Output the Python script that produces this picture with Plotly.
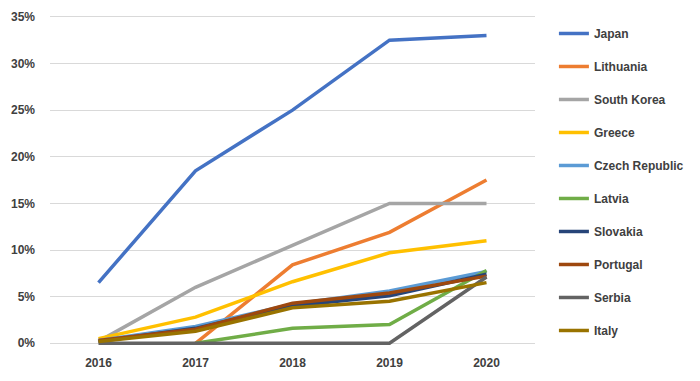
import plotly.graph_objects as go

years = ["2016", "2017", "2018", "2019", "2020"]
series_names = ["Japan", "Lithuania", "South Korea", "Greece", "Czech Republic",
                "Latvia", "Slovakia", "Portugal", "Serbia", "Italy"]
japan = [0.065, 0.185, 0.25, 0.325, 0.33]
lithuania = [None, 0.0, 0.084, 0.119, 0.175]
south_korea = [0.002, 0.06, 0.105, 0.15, 0.15]
greece = [0.005, 0.028, 0.066, 0.097, 0.11]
czech = [0.003, 0.018, 0.042, 0.056, 0.077]
latvia = [None, 0.0, 0.016, 0.020, 0.078]
slovakia = [0.002, 0.016, 0.040, 0.051, 0.074]
portugal = [0.003, 0.015, 0.043, 0.054, 0.072]
serbia = [0.0, 0.0, 0.0, 0.0, 0.071]
italy = [0.002, 0.013, 0.038, 0.045, 0.065]
values = [japan, lithuania, south_korea, greece, czech, latvia, slovakia, portugal, serbia, italy]
colors = ["#4472C4", "#ED7D31", "#A5A5A5", "#FFC000", "#5B9BD5",
          "#70AD47", "#264478", "#9E480E", "#636363", "#997300"]
y_ticks = [0, 0.05, 0.10, 0.15, 0.20, 0.25, 0.30, 0.35]

fig = go.Figure()
for i, (name, vals) in enumerate(zip(series_names, values)):
    fig.add_trace(go.Scatter(
        x=years, y=vals, name=name, mode="lines",
        line=dict(color=colors[i], width=3.5),
        legendgroup=f"g{i}", connectgaps=False,
    ))

font = dict(family="Liberation Sans, Arial, sans-serif", size=12, color="#404040", weight="bold")
fig.update_layout(
    width=692, height=373,
    margin=dict(l=42, r=165, t=7, b=34, autoexpand=False),
    paper_bgcolor="white", plot_bgcolor="white",
    font=font,
    showlegend=True,
    legend=dict(x=1.039, y=0.988, xanchor="left", yanchor="top",
                font=font, tracegroupgap=14.0, bgcolor="rgba(0,0,0,0)"),
    xaxis=dict(type="category", range=[-0.5, 4.5], showgrid=False, showline=False,
               ticks="", tickfont=font, zeroline=False, automargin=False,
               ticklabelstandoff=7),
    yaxis=dict(range=[-0.004, 0.352], tickvals=y_ticks, tickformat=".0%",
               showgrid=True, gridcolor="#D9D9D9", gridwidth=1, zeroline=False,
               showline=False, ticks="", tickfont=font, ticklabelstandoff=14,
               automargin=False),
)
fig.write_html("out.html")
